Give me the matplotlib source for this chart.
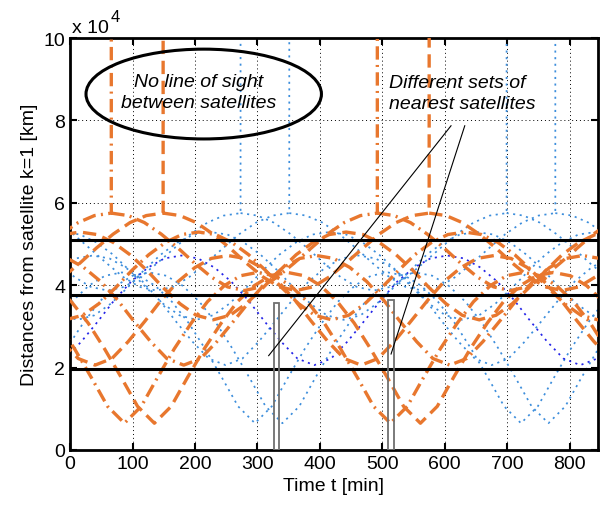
import numpy as np
import matplotlib.pyplot as plt
from matplotlib.patches import Ellipse, Rectangle

plt.rcParams['font.family'] = ['Liberation Sans', 'DejaVu Sans']

nan = np.nan

# distances to satellites of the second orbital plane (orange) [km], time [min]
t_o1 = [-20, 7, 34, 60, 87, 114, 140, 167, 194, 220, 247, 273, 300, 327, 353, 380, 407, 433, 460, 486, 513, 540, 566, 593, 620, 646, 673, 699, 726, 753, 779, 806, 833, 859]
d_o1 = [30800, 24600, 17600, 10600, 6500, 10600, 17600, 24600, 30800, 36000, 39900, 42300, 43100, 42300, 39900, 36000, 30800, 24600, 17600, 10600, 6500, 10600, 17600, 24600, 30800, 36000, 39900, 42300, 43100, 42300, 39900, 36000, 30800, 24600]
t_o2 = [-25, 2, 29, 55, 82, 108, 135, 162, 188, 215, 242, 268, 295, 321, 348, 375, 401, 428, 455, 481, 508, 534, 561, 588, 614, 641, 668, 694, 721, 747, 774, 801, 827, 854]
d_o2 = [39900, 36000, 30800, 24600, 17600, 10600, 6500, 10600, 17600, 24600, 30800, 36000, 39900, 42300, 43100, 42300, 39900, 36000, 30800, 24600, 17600, 10600, 6500, 10600, 17600, 24600, 30800, 36000, 39900, 42300, 43100, 42300, 39900, 36000]
t_o3 = [-13, 13, 40, 67, 93, 120, 146, 173, 200, 226, 253, 280, 306, 333, 360, 386, 413, 439, 466, 493, 519, 546, 573, 599, 626, 652, 679, 706, 732, 759, 786, 812, 839, 865]
d_o3 = [26300, 22200, 20600, 22200, 26300, 31300, 36400, 40900, 44300, 46500, 47200, 46500, 44300, 40900, 36400, 31300, 26300, 22200, 20600, 22200, 26300, 31300, 36400, 40900, 44300, 46500, 47200, 46500, 44300, 40900, 36400, 31300, 26300, 22200]
t_o4 = [-4, 22, 49, 76, 102, 129, 155, 182, 209, 235, 262, 289, 315, 342, 368, 395, 422, 448, 475, 502, 528, 555, 581, 608, 635, 661, 688, 715, 741, 768, 794, 821, 848, 874]
d_o4 = [46500, 44300, 40900, 36400, 31300, 26300, 22200, 20600, 22200, 26300, 31300, 36400, 40900, 44300, 46500, 47200, 46500, 44300, 40900, 36400, 31300, 26300, 22200, 20600, 22200, 26300, 31300, 36400, 40900, 44300, 46500, 47200, 46500, 44300]
t_o5 = [-7, 20, 46, 73, 99, 126, 153, 179, 206, 233, 259, 286, 313, 339, 366, 392, 419, 446, 472, 499, 526, 552, 579, 605, 632, 659, 685, 712, 739, 765, 792, 818, 845, 872]
d_o5 = [31600, 32700, 35500, 39400, 43600, 47400, 50400, 52300, 52900, 52300, 50400, 47400, 43600, 39400, 35500, 32700, 31600, 32700, 35500, 39400, 43600, 47400, 50400, 52300, 52900, 52300, 50400, 47400, 43600, 39400, 35500, 32700, 31600, 32700]
t_o6 = [-11, 16, 43, 69, 96, 123, 149, 176, 202, 229, 256, 282, 309, 336, 362, 389, 415, 442, 469, 495, 522, 549, 575, 602, 628, 655, 682, 708, 735, 762, 788, 815, 841, 868]
d_o6 = [52300, 52900, 52300, 50400, 47400, 43600, 39400, 35500, 32700, 31600, 32700, 35500, 39400, 43600, 47400, 50400, 52300, 52900, 52300, 50400, 47400, 43600, 39400, 35500, 32700, 31600, 32700, 35500, 39400, 43600, 47400, 50400, 52300, 52900]
# these two lose line of sight near their maxima (value shoots off the top)
t_o7 = [-11, 16, 42, 69, 96, 122, 149, 149, 149, 149, 176, 202, 229, 256, 282, 309, 335, 362, 389, 415, 442, 469, 495, 522, 548, 575, 575, 575, 575, 602, 628, 655, 682, 708, 735, 761, 788, 815, 841, 868]
d_o7 = [42000, 45400, 49000, 52400, 55200, 56900, 57500, 120000, nan, 57500, 56900, 55200, 52400, 49000, 45400, 42000, 39600, 38700, 39600, 42000, 45400, 49000, 52400, 55200, 56900, 57500, 120000, nan, 57500, 56900, 55200, 52400, 49000, 45400, 42000, 39600, 38700, 39600, 42000, 45400]
t_o8 = [-14, 13, 39, 66, 66, 66, 66, 93, 119, 146, 173, 199, 226, 252, 279, 306, 332, 359, 386, 412, 439, 465, 492, 492, 492, 492, 519, 545, 572, 599, 625, 652, 678, 705, 732, 758, 785, 812, 838, 865]
d_o8 = [52400, 55200, 56900, 57500, 120000, nan, 57500, 56900, 55200, 52400, 49000, 45400, 42000, 39600, 38700, 39600, 42000, 45400, 49000, 52400, 55200, 56900, 57500, 120000, nan, 57500, 56900, 55200, 52400, 49000, 45400, 42000, 39600, 38700, 39600, 42000, 45400, 49000, 52400, 55200]

# distances to satellites of the third orbital plane (blue)
t_b1 = [-24, 3, 30, 56, 83, 110, 136, 163, 190, 216, 243, 269, 296, 323, 349, 376, 403, 429, 456, 482, 509, 536, 562, 589, 616, 642, 669, 695, 722, 749, 775, 802, 829, 855]
d_b1 = [30800, 36000, 39900, 42300, 43100, 42300, 39900, 36000, 30800, 24600, 17600, 10600, 6500, 10600, 17600, 24600, 30800, 36000, 39900, 42300, 43100, 42300, 39900, 36000, 30800, 24600, 17600, 10600, 6500, 10600, 17600, 24600, 30800, 36000]
t_b2 = [-6, 21, 47, 74, 100, 127, 154, 180, 207, 234, 260, 287, 313, 340, 367, 393, 420, 447, 473, 500, 526, 553, 580, 606, 633, 660, 686, 713, 739, 766, 793, 819, 846, 873]
d_b2 = [24600, 30800, 36000, 39900, 42300, 43100, 42300, 39900, 36000, 30800, 24600, 17600, 10600, 6500, 10600, 17600, 24600, 30800, 36000, 39900, 42300, 43100, 42300, 39900, 36000, 30800, 24600, 17600, 10600, 6500, 10600, 17600, 24600, 30800]
t_b3 = [-17, 9, 36, 63, 89, 116, 143, 169, 196, 222, 249, 276, 302, 329, 356, 382, 409, 435, 462, 489, 515, 542, 569, 595, 622, 648, 675, 702, 728, 755, 782, 808, 835, 861]
d_b3 = [44300, 46500, 47200, 46500, 44300, 40900, 36400, 31300, 26300, 22200, 20600, 22200, 26300, 31300, 36400, 40900, 44300, 46500, 47200, 46500, 44300, 40900, 36400, 31300, 26300, 22200, 20600, 22200, 26300, 31300, 36400, 40900, 44300, 46500]
t_b4 = [-8, 18, 45, 71, 98, 125, 151, 178, 205, 231, 258, 285, 311, 338, 364, 391, 418, 444, 471, 498, 524, 551, 577, 604, 631, 657, 684, 711, 737, 764, 790, 817, 844, 870]
d_b4 = [22200, 26300, 31300, 36400, 40900, 44300, 46500, 47200, 46500, 44300, 40900, 36400, 31300, 26300, 22200, 20600, 22200, 26300, 31300, 36400, 40900, 44300, 46500, 47200, 46500, 44300, 40900, 36400, 31300, 26300, 22200, 20600, 22200, 26300]
t_b5 = [-11, 16, 42, 69, 95, 122, 149, 175, 202, 229, 255, 282, 309, 335, 362, 388, 415, 442, 468, 495, 522, 548, 575, 601, 628, 655, 681, 708, 735, 761, 788, 814, 841, 868]
d_b5 = [52900, 52300, 50400, 47400, 43600, 39400, 35500, 32700, 31600, 32700, 35500, 39400, 43600, 47400, 50400, 52300, 52900, 52300, 50400, 47400, 43600, 39400, 35500, 32700, 31600, 32700, 35500, 39400, 43600, 47400, 50400, 52300, 52900, 52300]
t_b6 = [-15, 12, 39, 65, 92, 118, 145, 172, 198, 225, 252, 278, 305, 332, 358, 385, 411, 438, 465, 491, 518, 545, 571, 598, 624, 651, 678, 704, 731, 758, 784, 811, 837, 864]
d_b6 = [32700, 31600, 32700, 35500, 39400, 43600, 47400, 50400, 52300, 52900, 52300, 50400, 47400, 43600, 39400, 35500, 32700, 31600, 32700, 35500, 39400, 43600, 47400, 50400, 52300, 52900, 52300, 50400, 47400, 43600, 39400, 35500, 32700, 31600]
t_b7 = [-22, 5, 31, 58, 85, 111, 138, 165, 191, 218, 245, 271, 298, 324, 351, 351, 351, 351, 378, 404, 431, 458, 484, 511, 537, 564, 591, 617, 644, 671, 697, 724, 750, 777, 777, 777, 777, 804, 830, 857]
d_b7 = [55200, 52400, 49000, 45400, 42000, 39600, 38700, 39600, 42000, 45400, 49000, 52400, 55200, 56900, 57500, 120000, nan, 57500, 56900, 55200, 52400, 49000, 45400, 42000, 39600, 38700, 39600, 42000, 45400, 49000, 52400, 55200, 56900, 57500, 120000, nan, 57500, 56900, 55200, 52400]
t_b8 = [-20, 7, 33, 60, 87, 113, 140, 167, 193, 220, 246, 273, 273, 273, 273, 300, 326, 353, 380, 406, 433, 459, 486, 513, 539, 566, 593, 619, 646, 672, 699, 699, 699, 699, 726, 752, 779, 806, 832, 859]
d_b8 = [45400, 42000, 39600, 38700, 39600, 42000, 45400, 49000, 52400, 55200, 56900, 57500, 120000, nan, 57500, 56900, 55200, 52400, 49000, 45400, 42000, 39600, 38700, 39600, 42000, 45400, 49000, 52400, 55200, 56900, 57500, 120000, nan, 57500, 56900, 55200, 52400, 49000, 45400, 42000]

# satellites in the same plane: constant distance
d_same = [19700, 37700, 51000]

# switching instants where the set of nearest satellites changes
switch_t = [326, 509]
switch_w = [8, 9]
switch_h = [35600, 36400]

orange = '#E8772E'
blue = '#3D8EDC'
dblue = '#2424E8'
dash = (4, 2)
dashdot = (4, 1.6, 0.6, 1.6)

orange_curves = [(t_o1, d_o1, dashdot), (t_o2, d_o2, dash), (t_o3, d_o3, dash), (t_o4, d_o4, dashdot),
                 (t_o5, d_o5, dashdot), (t_o6, d_o6, dash), (t_o7, d_o7, dash), (t_o8, d_o8, dashdot)]
blue_curves = [(t_b1, d_b1, blue), (t_b2, d_b2, blue), (t_b3, d_b3, blue), (t_b4, d_b4, dblue),
               (t_b5, d_b5, blue), (t_b6, d_b6, blue), (t_b7, d_b7, blue), (t_b8, d_b8, blue)]

fig = plt.figure(figsize=(6, 5.06), dpi=100)
ax = fig.add_axes([0.1168, 0.1087, 0.8795, 0.8142])

for t, d, c in blue_curves:
    ax.plot(t, d, color=c, lw=1.25, dashes=(1.2, 2.6), zorder=2)
for t, d, ds in orange_curves:
    ax.plot(t, d, color=orange, lw=2.4, dashes=ds, zorder=3)
for y in d_same:
    ax.axhline(y, color='k', lw=2.2, zorder=4)

for x0, w, h in zip(switch_t, switch_w, switch_h):
    ax.add_patch(Rectangle((x0, 0), w, h, fill=False, ec='#707070', lw=1.3, zorder=5))

# annotation lines towards the switching instants
ax.plot([610, 318], [78700, 22900], color='k', lw=0.8, zorder=5)
ax.plot([632, 514], [78700, 23300], color='k', lw=0.8, zorder=5)

ax.add_patch(Ellipse((214, 86400), 377, 21800, fill=False, ec='k', lw=2.2, zorder=6))
ax.text(206, 87000, 'No line of sight\nbetween satellites', ha='center', va='center',
        style='italic', fontsize=14, linespacing=1.3, zorder=7)
ax.text(511, 86700, 'Different sets of\nnearest satellites', ha='left', va='center',
        style='italic', fontsize=14, linespacing=1.3, zorder=7)

ax.set_xlim(0, 845)
ax.set_ylim(0, 100000)
ax.set_xticks(np.arange(0, 801, 100))
ax.set_yticks(np.arange(0, 100001, 20000))
ax.set_yticklabels(['0', '2', '4', '6', '8', '10'])
ax.grid(True, color='k', ls=(0, (1, 3)), lw=0.7)
ax.set_axisbelow(True)
ax.tick_params(direction='in', top=True, right=True, length=5, width=1.5, labelsize=14)
for s in ax.spines.values():
    s.set_linewidth(2)

ax.set_xlabel('Time t [min]', fontsize=14)
ax.set_ylabel('Distances from satellite k=1 [km]', fontsize=14)

fig.text(72 / 600, 1 - 33 / 506, 'x 10', fontsize=14, va='baseline')
fig.text(111 / 600, 1 - 22 / 506, '4', fontsize=12, va='baseline')

fig.savefig('out.png', dpi=100)
